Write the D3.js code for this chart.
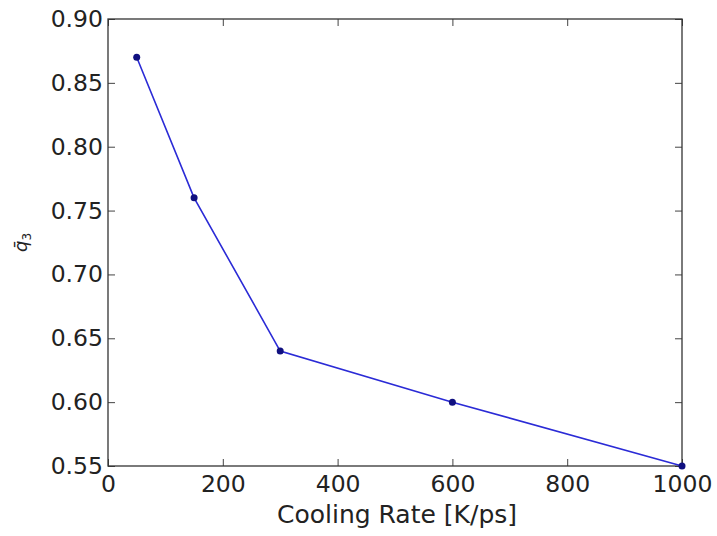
<!DOCTYPE html>
<html><head><meta charset="utf-8">
<script src="https://cdn.jsdelivr.net/npm/d3@7/dist/d3.min.js"></script>
<style>body{margin:0;background:#fff;} text{font-family:"DejaVu Sans",sans-serif;fill:#222;}</style>
</head><body>
<svg id="c" width="717" height="536"></svg>
<script>
const coolingRates = [50, 150, 300, 600, 1000];
const q3Values = [0.87, 0.76, 0.64, 0.60, 0.55];
const xTicks = [0, 200, 400, 600, 800, 1000];
const yTicks = [0.55, 0.60, 0.65, 0.70, 0.75, 0.80, 0.85, 0.90];

const svg = d3.select("#c");
const L = 108, R = 682, T = 19, B = 466;
const x = d3.scaleLinear().domain([0, 1000]).range([L, R]);
const y = d3.scaleLinear().domain([0.55, 0.90]).range([B, T]);

const g = svg.append("g");
g.append("g").attr("transform", `translate(0,${B})`)
  .call(d3.axisBottom(x).tickValues(xTicks).tickSizeInner(-7).tickSizeOuter(0).tickPadding(9).tickFormat(d3.format("d")))
  .call(s => { s.select(".domain").remove(); s.selectAll("text").attr("font-size", 23.5).attr("dy", "0.72em"); s.selectAll("line").attr("stroke", "#444"); });
g.append("g").attr("transform", `translate(0,${T})`)
  .call(d3.axisTop(x).tickValues(xTicks).tickSizeInner(-7).tickSizeOuter(0).tickFormat(""))
  .call(s => { s.select(".domain").remove(); s.selectAll("line").attr("stroke", "#444"); });
g.append("g").attr("transform", `translate(${L},0)`)
  .call(d3.axisLeft(y).tickValues(yTicks).tickSizeInner(-7).tickSizeOuter(0).tickPadding(5).tickFormat(d3.format(".2f")))
  .call(s => { s.select(".domain").remove(); s.selectAll("text").attr("font-size", 23.5); s.selectAll("line").attr("stroke", "#444"); });
g.append("g").attr("transform", `translate(${R},0)`)
  .call(d3.axisRight(y).tickValues(yTicks).tickSizeInner(-7).tickSizeOuter(0).tickFormat(""))
  .call(s => { s.select(".domain").remove(); s.selectAll("line").attr("stroke", "#444"); });

svg.append("rect").attr("x", L).attr("y", T).attr("width", R - L).attr("height", B - T)
  .attr("fill", "none").attr("stroke", "#333").attr("stroke-width", 1.3);

const pts = coolingRates.map((c, i) => [x(c), y(q3Values[i])]);
svg.append("path").attr("d", d3.line()(pts)).attr("fill", "none").attr("stroke", "#2b2bd6").attr("stroke-width", 1.6);
svg.selectAll("circle.pt").data(pts).enter().append("circle")
  .attr("cx", d => d[0]).attr("cy", d => d[1]).attr("r", 3.5).attr("fill", "#101080");

svg.append("text").attr("x", (L + R) / 2 + 2).attr("y", 523).attr("text-anchor", "middle").attr("font-size", 25)
  .text("Cooling Rate [K/ps]");

const yl = svg.append("text").attr("transform", `translate(27,${(T + B) / 2}) rotate(-90)`).attr("text-anchor", "middle").attr("font-size", 18);
yl.append("tspan").attr("font-style", "italic").text("q\u0304");
yl.append("tspan").attr("font-size", 12).attr("dy", 4).text("3");
</script>
</body></html>
